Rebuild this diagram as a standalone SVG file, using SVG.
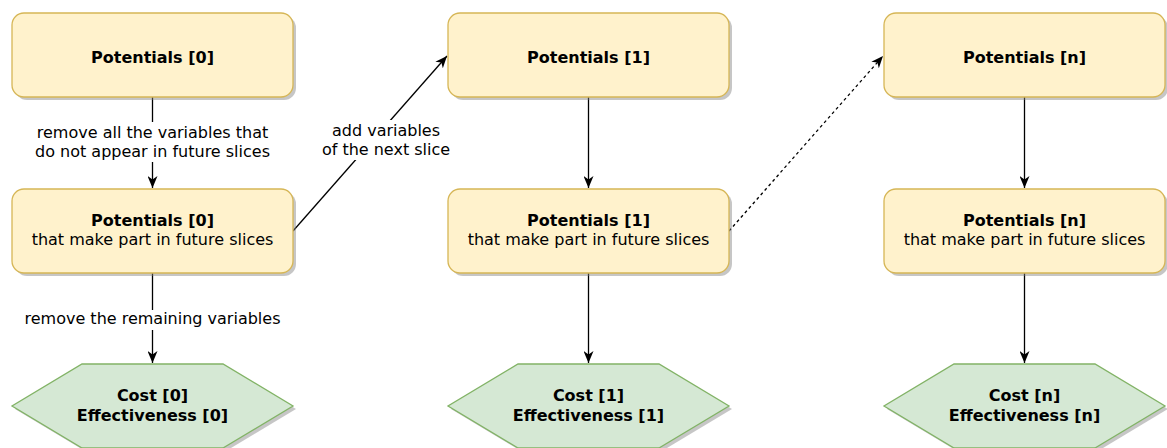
<svg xmlns="http://www.w3.org/2000/svg" width="1167" height="448" viewBox="0 0 1167 448">
  <defs>
    <style>
      .box { fill: #fff2cc; stroke: #d6b656; stroke-width: 1.3; }
      .hex { fill: #d5e8d4; stroke: #82b366; stroke-width: 1.3; }
      .shadow { fill: #808080; opacity: 0.45; }
      .edge { fill: none; stroke: #000; stroke-width: 1.3; }
      .dash { stroke-dasharray: 3 3; }
      .t { font-family: "DejaVu Sans", Verdana, sans-serif; font-size: 16px; fill: #000; text-anchor: middle; }
      .b { font-weight: bold; }
      .lbl { font-family: "DejaVu Sans", Verdana, sans-serif; font-size: 16px; fill: #000; text-anchor: middle; }
      .bg { fill: #fff; }
    </style>
    <marker id="arrow" viewBox="0 0 12 10" refX="12" refY="5" markerWidth="12" markerHeight="10" markerUnits="userSpaceOnUse" orient="auto">
      <path d="M0,0 L12,5 L0,10 L3.5,5 Z" fill="#000"/>
    </marker>
  </defs>

  <!-- connectors -->
  <g id="connectors">
    <path class="edge" d="M152.5,97 V188" marker-end="url(#arrow)"/>
    <rect class="bg" x="33" y="122" width="240" height="40"/>
    <text class="lbl" x="152.5" y="138">remove all the variables that</text>
    <text class="lbl" x="152.5" y="157">do not appear in future slices</text>

    <path class="edge" d="M152.5,273 V363" marker-end="url(#arrow)"/>
    <rect class="bg" x="20" y="310" width="265" height="20"/>
    <text class="lbl" x="152.5" y="324">remove the remaining variables</text>

    <path class="edge" d="M293,231 L447,56" marker-end="url(#arrow)"/>
    <rect class="bg" x="320" y="120" width="130" height="40"/>
    <text class="lbl" x="386" y="136">add variables</text>
    <text class="lbl" x="386" y="155">of the next slice</text>

    <path class="edge" d="M588.5,97 V188" marker-end="url(#arrow)"/>
    <path class="edge" d="M588.5,273 V363" marker-end="url(#arrow)"/>

    <path class="edge dash" d="M729,231 L883,56" marker-end="url(#arrow)"/>

    <path class="edge" d="M1024.5,97 V188" marker-end="url(#arrow)"/>
    <path class="edge" d="M1024.5,273 V363" marker-end="url(#arrow)"/>
  </g>

  <!-- column 0 -->
  <g id="pot0">
    <rect class="shadow" x="15" y="16" width="281" height="84" rx="12"/>
    <rect class="box" x="12" y="13" width="281" height="84" rx="12"/>
    <text class="t b" x="152.5" y="63">Potentials [0]</text>
  </g>
  <g id="pot0f">
    <rect class="shadow" x="15" y="192" width="281" height="84" rx="12"/>
    <rect class="box" x="12" y="189" width="281" height="84" rx="12"/>
    <text class="t b" x="152.5" y="226">Potentials [0]</text>
    <text class="t" x="152.5" y="245">that make part in future slices</text>
  </g>
  <g id="ce0">
    <path class="shadow" d="M85,367 H226 L296,409 L226,451 H85 L15,409 Z"/>
    <path class="hex" d="M82,364 H223 L293,406 L223,448 H82 L12,406 Z"/>
    <text class="t b" x="152.5" y="401">Cost [0]</text>
    <text class="t b" x="152.5" y="421">Effectiveness [0]</text>
  </g>

  <!-- column 1 -->
  <g id="pot1">
    <rect class="shadow" x="451" y="16" width="281" height="84" rx="12"/>
    <rect class="box" x="448" y="13" width="281" height="84" rx="12"/>
    <text class="t b" x="588.5" y="63">Potentials [1]</text>
  </g>
  <g id="pot1f">
    <rect class="shadow" x="451" y="192" width="281" height="84" rx="12"/>
    <rect class="box" x="448" y="189" width="281" height="84" rx="12"/>
    <text class="t b" x="588.5" y="226">Potentials [1]</text>
    <text class="t" x="588.5" y="245">that make part in future slices</text>
  </g>
  <g id="ce1">
    <path class="shadow" d="M521,367 H662 L732,409 L662,451 H521 L451,409 Z"/>
    <path class="hex" d="M518,364 H659 L729,406 L659,448 H518 L448,406 Z"/>
    <text class="t b" x="588.5" y="401">Cost [1]</text>
    <text class="t b" x="588.5" y="421">Effectiveness [1]</text>
  </g>

  <!-- column n -->
  <g id="potn">
    <rect class="shadow" x="887" y="16" width="281" height="84" rx="12"/>
    <rect class="box" x="884" y="13" width="281" height="84" rx="12"/>
    <text class="t b" x="1024.5" y="63">Potentials [n]</text>
  </g>
  <g id="potnf">
    <rect class="shadow" x="887" y="192" width="281" height="84" rx="12"/>
    <rect class="box" x="884" y="189" width="281" height="84" rx="12"/>
    <text class="t b" x="1024.5" y="226">Potentials [n]</text>
    <text class="t" x="1024.5" y="245">that make part in future slices</text>
  </g>
  <g id="cen">
    <path class="shadow" d="M957,367 H1098 L1168,409 L1098,451 H957 L887,409 Z"/>
    <path class="hex" d="M954,364 H1095 L1165,406 L1095,448 H954 L884,406 Z"/>
    <text class="t b" x="1024.5" y="401">Cost [n]</text>
    <text class="t b" x="1024.5" y="421">Effectiveness [n]</text>
  </g>
</svg>
